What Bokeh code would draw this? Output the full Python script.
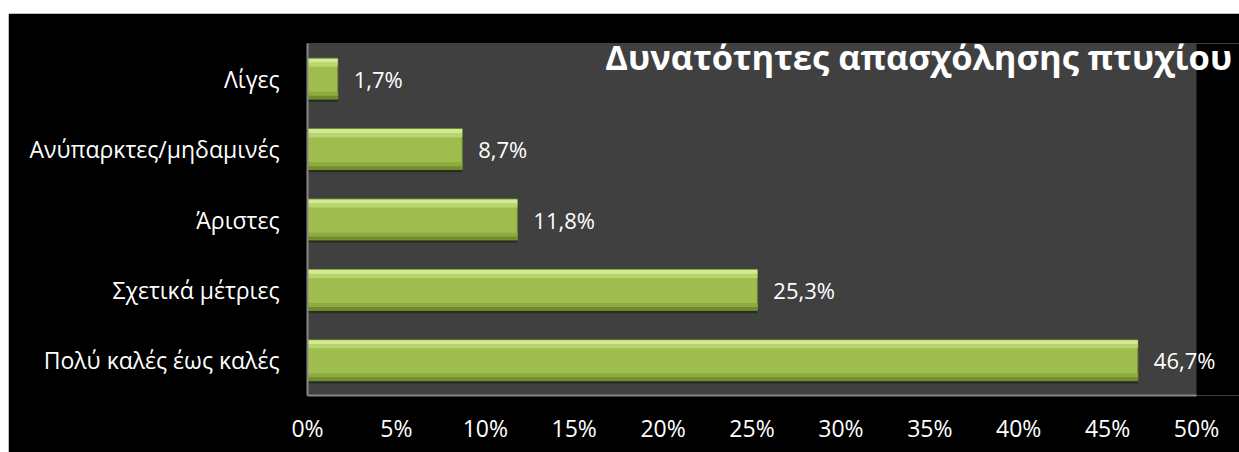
from bokeh.plotting import figure
from bokeh.models import (ColumnDataSource, FixedTicker, PrintfTickFormatter,
                          Label, LabelSet, Spacer, BoxAnnotation)
from bokeh.layouts import column, row
from bokeh.transform import dodge
from bokeh.core.properties import value
from bokeh.embed import file_html
from bokeh.resources import INLINE

categories = ["Πολύ καλές έως καλές", "Σχετικά μέτριες", "Άριστες",
              "Ανύπαρκτες/μηδαμινές", "Λίγες"]
values = [46.7, 25.3, 11.8, 8.7, 1.7]
value_labels = ["46,7%", "25,3%", "11,8%", "8,7%", "1,7%"]
x_ticks = [0, 5, 10, 15, 20, 25, 30, 35, 40, 45, 50]
title_text = "Δυνατότητες απασχόλησης πτυχίου"

src = ColumnDataSource(dict(cat=categories, val=values, lab=value_labels))

# frame spans to the right edge; gray plot area drawn only up to 50%
x_end = 50 * 932 / 889
p = figure(width=1231, height=439, y_range=categories, x_range=(0, x_end),
           output_backend="svg", toolbar_location=None,
           min_border_left=299, min_border_right=0,
           min_border_top=30, min_border_bottom=57)
p.background_fill_color = "#000000"
p.border_fill_color = "#000000"
p.outline_line_color = None
p.xgrid.visible = False
p.ygrid.visible = False

p.add_layout(BoxAnnotation(left=0, right=50, fill_color="#404040",
                           fill_alpha=1, line_color=None, level="underlay"))

yr = p.y_range
# shadow
p.hbar(y=dodge("cat", -0.03, range=yr), right="val", left=0, height=0.6,
       source=src, fill_color="#1a1f0e", line_color=None, fill_alpha=0.6)
# main bar
p.hbar(y="cat", right="val", left=0, height=0.58, source=src,
       fill_color="#a0be4f", line_color="#738f2e", line_width=1)
# gradient stripes
p.hbar(y=dodge("cat", 0.255, range=yr), right="val", left=0, height=0.06,
       source=src, fill_color="#d2ea95", line_color=None)
p.hbar(y=dodge("cat", 0.2, range=yr), right="val", left=0, height=0.06,
       source=src, fill_color="#b9d56f", line_color=None)
p.hbar(y=dodge("cat", -0.215, range=yr), right="val", left=0, height=0.06,
       source=src, fill_color="#8dab40", line_color=None)
p.hbar(y=dodge("cat", -0.265, range=yr), right="val", left=0, height=0.045,
       source=src, fill_color="#708c2c", line_color=None)

labels = LabelSet(x="val", y="cat", text="lab", source=src, x_offset=16,
                  text_baseline="middle", text_align="left", text_color="white",
                  text_font=value("Open Sans"), text_font_size=value("22px"))
p.add_layout(labels)

p.xaxis.ticker = FixedTicker(ticks=x_ticks)
p.xaxis.formatter = PrintfTickFormatter(format="%d%%")
p.xaxis.bounds = (0, 50)
for ax in (p.xaxis, p.yaxis):
    ax.axis_line_color = "#878787"
    ax.axis_line_width = 2
    ax.major_tick_line_color = None
    ax.minor_tick_line_color = None
    ax.major_label_text_color = "white"
    ax.major_label_text_font = "Open Sans"
    ax.major_label_text_font_size = "23px"
p.xaxis.major_label_standoff = 10
p.yaxis.major_label_standoff = 22

p.add_layout(Label(x=16.75, y=4.82, text=title_text, text_color="white",
                   text_font="Open Sans", text_font_style="bold",
                   text_font_size="34.5px", text_baseline="middle",
                   text_align="left"))

layout = row(Spacer(width=8, height=452),
             column(Spacer(height=13, width=1231), p))
open("out.html", "w").write(file_html(layout, INLINE))
